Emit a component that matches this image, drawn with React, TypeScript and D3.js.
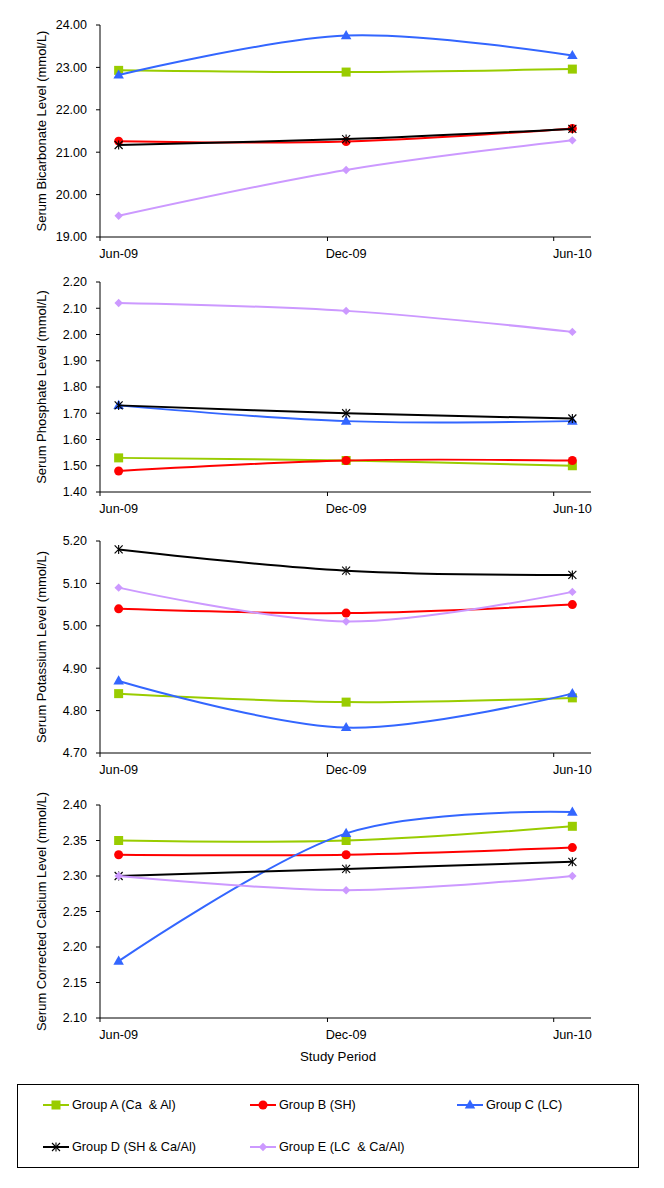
import React from "react";
import * as d3 from "d3";

const categories = ["Jun-09", "Dec-09", "Jun-10"];
const categoryDates = ["2009-06-16", "2009-12-16", "2010-06-16"];
const tickDates = ["2009-06-01", "2009-12-01", "2010-06-01"];
const axisDomain = ["2009-06-01", "2010-07-01"];

const seriesNames = [
  "Group A (Ca  & Al)",
  "Group B (SH)",
  "Group C (LC)",
  "Group D (SH & Ca/Al)",
  "Group E (LC  & Ca/Al)",
];
const seriesColors = ["#99CC00", "#FF0000", "#3366FF", "#000000", "#CC99FF"];
const seriesMarkers = ["square", "circle", "triangle", "asterisk", "diamond"];

// Panel 1: Bicarbonate
const bicarbonate = [
  [22.93, 22.89, 22.96],
  [21.26, 21.25, 21.56],
  [22.82, 23.75, 23.28],
  [21.17, 21.31, 21.55],
  [19.5, 20.58, 21.28],
];
// Panel 2: Phosphate
const phosphate = [
  [1.53, 1.52, 1.5],
  [1.48, 1.52, 1.52],
  [1.73, 1.67, 1.67],
  [1.73, 1.7, 1.68],
  [2.12, 2.09, 2.01],
];
// Panel 3: Potassium
const potassium = [
  [4.84, 4.82, 4.83],
  [5.04, 5.03, 5.05],
  [4.87, 4.76, 4.84],
  [5.18, 5.13, 5.12],
  [5.09, 5.01, 5.08],
];
// Panel 4: Corrected calcium
const calcium = [
  [2.35, 2.35, 2.37],
  [2.33, 2.33, 2.34],
  [2.18, 2.36, 2.39],
  [2.3, 2.31, 2.32],
  [2.3, 2.28, 2.3],
];

const panelTitles = [
  "Serum Bicarbonate Level (mmol/L)",
  "Serum Phosphate Level (mmol/L)",
  "Serum Potassium Level (mmol/L)",
  "Serum Corrected Calcium Level (mmol/L)",
];
const panelData = [bicarbonate, phosphate, potassium, calcium];
const panelDomains = [
  [19, 24],
  [1.4, 2.2],
  [4.7, 5.2],
  [2.1, 2.4],
];
const panelSteps = [1, 0.1, 0.1, 0.05];
const xAxisTitle = "Study Period";

// layout
const panelTops = [25, 282, 541, 805];
const panelBottoms = [237, 492, 753, 1018];
const plotLeft = 100;
const plotRight = 591;
const FONT = "'Liberation Sans', Arial, sans-serif";

const parse = d3.timeParse("%Y-%m-%d");

function Marker({ type, x, y, color }: { type: string; x: number; y: number; color: string }) {
  if (type === "square") {
    const s = 9;
    return <rect x={x - s / 2} y={y - s / 2} width={s} height={s} fill={color} />;
  }
  if (type === "circle") {
    return <circle cx={x} cy={y} r={4.5} fill={color} />;
  }
  if (type === "triangle") {
    const p = d3.symbol(d3.symbolTriangle, 48)();
    return <path d={p || ""} transform={`translate(${x},${y + 0.5})`} fill={color} />;
  }
  if (type === "diamond") {
    const r = 4.2;
    return <path d={`M${x},${y - r}L${x + r},${y}L${x},${y + r}L${x - r},${y}Z`} fill={color} />;
  }
  // asterisk
  const r = 4;
  return (
    <g stroke={color} strokeWidth={1.1} fill="none">
      <line x1={x - r} y1={y - r} x2={x + r} y2={y + r} />
      <line x1={x - r} y1={y + r} x2={x + r} y2={y - r} />
      <line x1={x} y1={y - r - 0.5} x2={x} y2={y + r + 0.5} />
    </g>
  );
}

function Panel({ idx }: { idx: number }) {
  const top = panelTops[idx];
  const bottom = panelBottoms[idx];
  const x = d3
    .scaleTime()
    .domain(axisDomain.map((d) => parse(d) as Date))
    .range([plotLeft, plotRight]);
  const [y0, y1] = panelDomains[idx];
  const y = d3.scaleLinear().domain([y0, y1]).range([bottom, top]);
  const step = panelSteps[idx];
  const nTicks = Math.round((y1 - y0) / step);
  const yTicks = d3.range(nTicks + 1).map((i) => y0 + i * step);
  const dates = categoryDates.map((d) => parse(d) as Date);
  const line = d3
    .line<[Date, number]>()
    .x((d) => x(d[0]))
    .y((d) => y(d[1]))
    .curve(d3.curveCardinal.tension(0));
  const data = panelData[idx];
  const midY = (top + bottom) / 2;
  return (
    <g>
      {/* axes */}
      <line x1={plotLeft} y1={top} x2={plotLeft} y2={bottom} stroke="#000" strokeWidth={1} />
      <line x1={plotLeft} y1={bottom} x2={plotRight} y2={bottom} stroke="#000" strokeWidth={1} />
      {yTicks.map((t, i) => (
        <g key={i}>
          <line x1={plotLeft - 4} x2={plotLeft} y1={y(t)} y2={y(t)} stroke="#000" />
          <text
            x={plotLeft - 13}
            y={y(t)}
            dy="0.35em"
            textAnchor="end"
            fontSize={12.5}
            fontFamily={FONT}
            fill="#000"
          >
            {t.toFixed(2)}
          </text>
        </g>
      ))}
      {tickDates.map((d, i) => {
        const tx = x(parse(d) as Date);
        return <line key={i} x1={tx} x2={tx} y1={bottom} y2={bottom + 4} stroke="#000" />;
      })}
      {categories.map((c, i) => (
        <text
          key={c}
          x={x(dates[i])}
          y={bottom + 21}
          textAnchor="middle"
          fontSize={12.7}
          fontFamily={FONT}
          fill="#000"
        >
          {c}
        </text>
      ))}
      <text
        transform={`translate(${46},${midY}) rotate(-90)`}
        textAnchor="middle"
        fontSize={13}
        fontFamily={FONT}
        fill="#000"
      >
        {panelTitles[idx]}
      </text>
      {data.map((vals, s) => {
        const pts: [Date, number][] = vals.map((v, i) => [dates[i], v]);
        return (
          <g key={s}>
            <path d={line(pts) || ""} fill="none" stroke={seriesColors[s]} strokeWidth={2} />
            {pts.map((p, i) => (
              <Marker key={i} type={seriesMarkers[s]} x={x(p[0])} y={y(p[1])} color={seriesColors[s]} />
            ))}
          </g>
        );
      })}
    </g>
  );
}

export default function App() {
  const W = 664;
  const H = 1188;
  const legendCols = [43, 250, 457];
  const legendRows = [1105, 1147];
  return (
    <svg
      width={W}
      height={H}
      style={{ position: "absolute", left: 0, top: 0, background: "#fff" }}
      viewBox={`0 0 ${W} ${H}`}
    >
      <rect x={0} y={0} width={W} height={H} fill="#fff" />
      {panelTitles.map((_, i) => (
        <Panel key={i} idx={i} />
      ))}
      <text
        x={338}
        y={1061}
        textAnchor="middle"
        fontSize={13.3}
        fontFamily={FONT}
        fill="#000"
      >
        {xAxisTitle}
      </text>
      <rect x={17.5} y={1084.5} width={621} height={83} fill="#fff" stroke="#000" strokeWidth={1} />
      {seriesNames.map((name, s) => {
        const cx = legendCols[s % 3];
        const cy = legendRows[Math.floor(s / 3)];
        return (
          <g key={s}>
            <line x1={cx} x2={cx + 26} y1={cy} y2={cy} stroke={seriesColors[s]} strokeWidth={2} />
            <Marker type={seriesMarkers[s]} x={cx + 13} y={cy} color={seriesColors[s]} />
            <text
              x={cx + 29}
              y={cy}
              dy="0.35em"
              fontSize={12.7}
              fontFamily={FONT}
              fill="#000"
              style={{ whiteSpace: "pre" }}
            >
              {name}
            </text>
          </g>
        );
      })}
    </svg>
  );
}
